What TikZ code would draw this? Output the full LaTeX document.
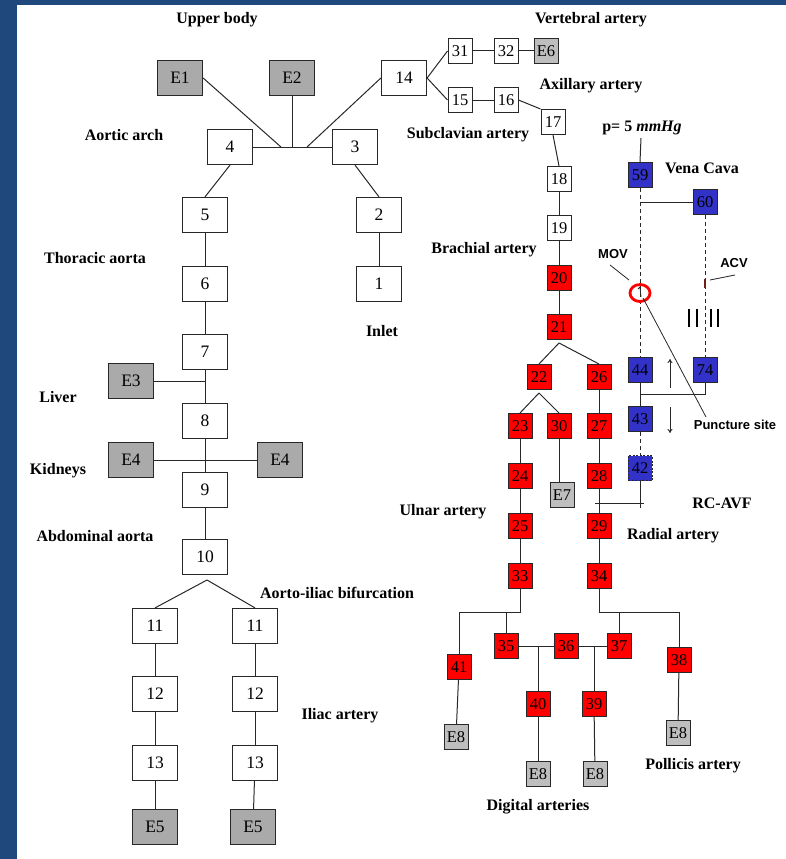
\documentclass[tikz,border=0pt]{standalone}
\usepackage{fontspec}
\setmainfont{Liberation Serif}
\newfontfamily\arialfont{Liberation Sans}
\usetikzlibrary{arrows.meta}
\definecolor{framecol}{RGB}{31,73,125}
\definecolor{vred}{RGB}{255,0,0}
\definecolor{vblue}{RGB}{50,50,200}
\definecolor{egray}{RGB}{170,170,170}
\definecolor{egraylt}{RGB}{190,190,190}
\definecolor{lc}{RGB}{40,40,40}
\definecolor{acvmark}{RGB}{110,30,20}
\begin{document}
\begin{tikzpicture}[x=1pt,y=-1pt,
 big/.style={draw=lc,line width=1.2pt,minimum width=45pt,minimum height=35pt,inner sep=0pt,font=\fontsize{17.5}{17.5}\selectfont,fill=white},
 bigE/.style={big,fill=egray},
 sm/.style={draw=lc,line width=1pt,minimum width=24pt,minimum height=25pt,inner sep=0pt,font=\fontsize{16.5}{16.5}\selectfont,fill=white},
 rbox/.style={sm,fill=vred},
 bbox/.style={sm,fill=vblue},
 smE/.style={sm,fill=egraylt},
 lab/.style={font=\bfseries\fontsize{16}{16}\selectfont,inner sep=0pt},
 slab/.style={font=\arialfont\bfseries\fontsize{13}{13}\selectfont,inner sep=0pt},
 conn/.style={draw=lc,line width=1pt},
 dconn/.style={draw=lc,line width=1pt,dash pattern=on 4pt off 3pt},
]
\fill[framecol] (0,0) rectangle (786,859);
\fill[white] (17,5) rectangle (786,859);
\useasboundingbox (0,0) rectangle (786,859);

% ---------- left: aorta ----------
\node[bigE] (E1) at (180,78) {E1};
\node[bigE] (E2) at (292,78) {E2};
\node[big] (n14) at (404,78) {14};
\node[big] (n4) at (230,147) {4};
\node[big] (n3) at (355,147) {3};
\node[big] (n5) at (205,215) {5};
\node[big] (n2) at (379,215) {2};
\node[big] (n6) at (205,284) {6};
\node[big] (n1) at (379,284) {1};
\node[big] (n7) at (205,352) {7};
\node[bigE] (E3) at (131,381) {E3};
\node[big] (n8) at (205,421) {8};
\node[bigE] (E4a) at (131,460) {E4};
\node[bigE] (E4b) at (280,460) {E4};
\node[big] (n9) at (205,490) {9};
\node[big] (n10) at (205,557) {10};
\node[big] (n11a) at (155,626) {11};
\node[big] (n11b) at (255,626) {11};
\node[big] (n12a) at (155,694) {12};
\node[big] (n12b) at (255,694) {12};
\node[big] (n13a) at (155,763) {13};
\node[big] (n13b) at (255,763) {13};
\node[bigE] (E5a) at (155,827) {E5};
\node[bigE] (E5b) at (253,827) {E5};

\coordinate (ja) at (281,147);
\coordinate (jb) at (292,147);
\coordinate (jc) at (307,147);
\coordinate (jE3) at (205,381);
\coordinate (apex10) at (207,580);

\draw[conn] (n4.east) -- (n3.west);
\draw[conn] (E1.east) -- (ja);
\draw[conn] (E2.south) -- (jb);
\draw[conn] (n14.west) -- (jc);
\draw[conn] (n4.south) -- (n5.north);
\draw[conn] (n3.south) -- (n2.north);
\draw[conn] (n5) -- (n6);
\draw[conn] (n2) -- (n1);
\draw[conn] (n6) -- (n7);
\draw[conn] (n7) -- (n8);
\draw[conn] (E3.east) -- (jE3);
\draw[conn] (n8) -- (n9);
\draw[conn] (E4a.east) -- (E4b.west);
\draw[conn] (n9) -- (n10);
\draw[conn] (apex10) -- (n11a.north);
\draw[conn] (apex10) -- (n11b.north);
\draw[conn] (n11a) -- (n12a);
\draw[conn] (n12a) -- (n13a);
\draw[conn] (n13a) -- (E5a);
\draw[conn] (n11b) -- (n12b);
\draw[conn] (n12b) -- (n13b);
\draw[conn] (n13b) -- (E5b);

% ---------- right: arm arteries ----------
\node[sm] (n31) at (460,51) {31};
\node[sm] (n32) at (506,51) {32};
\node[smE] (E6) at (546,51) {E6};
\node[sm] (n15) at (460,100) {15};
\node[sm] (n16) at (506,100) {16};
\node[sm] (n17) at (553,122) {17};
\node[sm] (n18) at (559,179) {18};
\node[sm] (n19) at (559,228) {19};
\node[rbox] (n20) at (559,278) {20};
\node[rbox] (n21) at (559,327) {21};
\node[rbox] (n22) at (539,377) {22};
\node[rbox] (n26) at (599,377) {26};
\node[rbox] (n23) at (520,426) {23};
\node[rbox] (n30) at (559,426) {30};
\node[rbox] (n27) at (599,426) {27};
\node[rbox] (n24) at (520,476) {24};
\node[smE] (E7) at (562,495) {E7};
\node[rbox] (n28) at (599,476) {28};
\node[rbox] (n25) at (520,526) {25};
\node[rbox] (n29) at (599,526) {29};
\node[rbox] (n33) at (520,576) {33};
\node[rbox] (n34) at (599,576) {34};
\node[rbox] (n41) at (459,667) {41};
\node[rbox] (n35) at (506,646) {35};
\node[rbox] (n36) at (566,646) {36};
\node[rbox] (n37) at (619,646) {37};
\node[rbox] (n38) at (679,660) {38};
\node[rbox] (n40) at (538,704) {40};
\node[rbox] (n39) at (594,704) {39};
\node[smE] (E8a) at (456,737) {E8};
\node[smE] (E8b) at (538,774) {E8};
\node[smE] (E8c) at (595,774) {E8};
\node[smE] (E8d) at (678,733) {E8};

\coordinate (a21) at (559,343);
\coordinate (a22) at (539,393);
\coordinate (b33) at (520,612);
\coordinate (b34) at (599,612);

\draw[conn] (n14.east) -- (n31.west);
\draw[conn] (n14.east) -- (n15.west);
\draw[conn] (n31) -- (n32);
\draw[conn] (n32) -- (E6);
\draw[conn] (n15) -- (n16);
\draw[conn] (n16.east) -- (n17.north west);
\draw[conn] (n17.south) -- (n18.north);
\draw[conn] (n18) -- (n19);
\draw[conn] (n19) -- (n20);
\draw[conn] (n20) -- (n21);
\draw[conn] (a21) -- (n22.north);
\draw[conn] (a21) -- (n26.north);
\draw[conn] (a22) -- (n23.north);
\draw[conn] (a22) -- (n30.north);
\draw[conn] (n26) -- (n27);
\draw[conn] (n27) -- (n28);
\draw[conn] (n28) -- (n29);
\draw[conn] (n30.south) -- (n30.south |- E7.north);
\draw[conn] (n23) -- (n24);
\draw[conn] (n24) -- (n25);
\draw[conn] (n25) -- (n33);
\draw[conn] (n29) -- (n34);
\draw[conn] (n33.south) -- (b33) -| (n41.north);
\draw[conn] (n35.north) -- (n35.north |- b33);
\draw[conn] (n34.south) -- (b34) -| (n38.north);
\draw[conn] (n37.north) -- (n37.north |- b34);
\draw[conn] (n35.east) -- (n36.west);
\draw[conn] (n40.north) -- (n40.north |- n35.east);
\draw[conn] (n36.east) -- (n37.west);
\draw[conn] (n39.north) -- (n39.north |- n36.east);
\draw[conn] (n41) -- (E8a);
\draw[conn] (n40) -- (E8b);
\draw[conn] (n39) -- (E8c);
\draw[conn] (n38) -- (E8d);

% ---------- veins / fistula ----------
\node[bbox] (n59) at (640,175) {59};
\node[bbox] (n60) at (705,202) {60};
\node[bbox] (n44) at (640,370) {44};
\node[bbox] (n74) at (705,370) {74};
\node[bbox] (n43) at (640,419) {43};
\node[bbox,dash pattern=on 2pt off 1.5pt] (n42) at (640,468) {42};

\node[lab] (pl) at (642,128) {p= 5 \textit{mmHg}};
\coordinate (j59) at (640,202);
\coordinate (j44) at (640,394);
\coordinate (c42) at (640,508);
\coordinate (h1) at (595,503);
\coordinate (h2) at (644,503);

\draw[conn] (641,138) -- (n59.north);
\draw[conn] (j59) -- (n60.west);
\draw[dconn] (n59.south) -- (n44.north);
\draw[dconn] (n60.south) -- (n74.north);
\draw[conn] (n44) -- (n43);
\draw[conn] (n74.south) |- (j44);
\draw[dconn] (n43.south) -- (n42.north);
\draw[conn] (n42.south) -- (c42);
\draw[conn] (h1) -- (h2);

% MOV circle
\coordinate (mov) at (640,293);
\draw[red,line width=2.8pt] (mov) ellipse [x radius=10, y radius=8.5];
\draw[lc,line width=0.8pt] (638,289) -- (640,287) -- (641,297);
\node[slab] (movl) at (613,254) {MOV};
\draw[lc,line width=0.8pt] (610,265) -- (629,280);
\node[slab] (acvl) at (734,263) {ACV};
\draw[lc,line width=0.8pt] (710,280) -- (735,275);
\draw[acvmark,line width=1.6pt] (705,279) -- (705,288);
\foreach \xx in {689,697,711,718} \draw[black,line width=1.2pt] (\xx,309) -- (\xx,327);
\node[slab] (punct) at (735,425) {Puncture site};
\draw[lc,line width=0.8pt] (643,298) -- (706,417);
\draw[lc,line width=0.9pt,-{To[length=4pt,width=5pt]}] (670,388) -- (670,359);
\draw[lc,line width=0.9pt,-{To[length=4pt,width=5pt]}] (670,407) -- (670,433);

% ---------- labels ----------
\node[lab] at (217,20) {Upper body};
\node[lab] at (124,135) {Aortic arch};
\node[lab] at (95,258) {Thoracic aorta};
\node[lab] at (382,331) {Inlet};
\node[lab] at (58,397) {Liver};
\node[lab] at (58,471) {Kidneys};
\node[lab] at (95,536) {Abdominal aorta};
\node[lab] at (337,593) {Aorto-iliac bifurcation};
\node[lab] at (340,716) {Iliac artery};
\node[lab] at (591,20) {Vertebral artery};
\node[lab] at (591,86) {Axillary artery};
\node[lab] at (468,135) {Subclavian artery};
\node[lab] at (484,250) {Brachial artery};
\node[lab] at (702,168) {Vena Cava};
\node[lab] at (722,503) {RC-AVF};
\node[lab] at (673,536) {Radial artery};
\node[lab] at (443,512) {Ulnar artery};
\node[lab] at (538,807) {Digital arteries};
\node[lab] at (693,766) {Pollicis artery};
\end{tikzpicture}
\end{document}
